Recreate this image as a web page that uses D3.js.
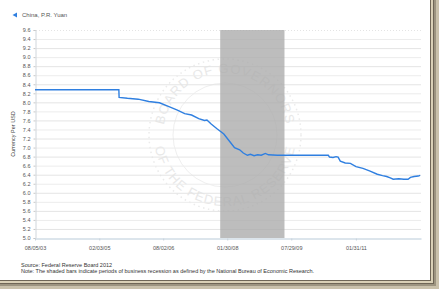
<!DOCTYPE html>
<html>
<head>
<meta charset="utf-8">
<script src="https://cdn.jsdelivr.net/npm/d3@7"></script>
<style>
  body { margin: 0; background: #fff; }
  svg { display: block; font-family: "Liberation Sans", Arial, sans-serif; }
</style>
</head>
<body>
<svg id="chart"></svg>
<script>
var seriesName = "China, P.R. Yuan";
var dates = ["2003-08-05", "2005-07-20", "2005-07-22", "2005-10-01", "2006-01-01", "2006-04-01",
  "2006-07-01", "2006-09-15", "2006-12-01", "2007-02-01", "2007-04-01", "2007-06-01",
  "2007-07-20", "2007-08-10", "2007-09-15", "2007-11-01", "2008-01-01", "2008-02-15",
  "2008-04-01", "2008-05-15", "2008-06-15", "2008-07-20", "2008-08-15", "2008-09-15",
  "2008-10-15", "2008-11-15", "2008-12-20", "2009-01-15", "2009-04-01", "2009-07-01",
  "2010-01-01", "2010-06-10", "2010-06-20", "2010-07-20", "2010-08-15", "2010-09-01",
  "2010-09-20", "2010-11-01", "2010-12-15", "2011-02-01", "2011-04-01", "2011-06-01",
  "2011-08-01", "2011-09-15", "2011-10-20", "2011-11-20", "2011-12-15", "2012-02-01",
  "2012-03-15", "2012-04-20", "2012-05-10", "2012-06-10", "2012-07-15", "2012-08-01"];
var values = [8.277, 8.277, 8.11, 8.09, 8.07, 8.02,
  7.99, 7.91, 7.83, 7.75, 7.72, 7.64,
  7.60, 7.61, 7.52, 7.42, 7.30, 7.15,
  7.00, 6.95, 6.88, 6.83, 6.85, 6.82,
  6.84, 6.83, 6.87, 6.84, 6.83, 6.83,
  6.83, 6.83, 6.79, 6.78, 6.80, 6.79,
  6.70, 6.66, 6.65, 6.58, 6.54, 6.48,
  6.41, 6.38, 6.36, 6.33, 6.30, 6.31,
  6.30, 6.30, 6.34, 6.36, 6.37, 6.385];
var recession = ["2007-12-01", "2009-06-01"];
var xTicks = ["2003-08-05", "2005-02-03", "2006-08-02", "2008-01-30", "2009-07-29", "2011-01-31"];
var yTicks = d3.range(50, 97, 2).map(function(d) { return d / 10; });

var W = 439, H = 289;
var parse = d3.timeParse("%Y-%m-%d");
var fmt = d3.timeFormat("%m/%d/%y");

var svg = d3.select("#chart").attr("width", W).attr("height", H);

var x = d3.scaleTime()
  .domain([parse("2003-08-05"), parse("2012-08-08")])
  .range([35, 421]);
var y = d3.scaleLinear().domain([5.0, 9.6]).range([238, 30]);

// faint seal watermark behind everything
var seal = svg.append("g").attr("transform", "translate(225,135)");
seal.append("circle").attr("r", 76).attr("fill", "none").attr("stroke", "#ebebeb")
  .attr("stroke-width", 1.5).attr("stroke-dasharray", "1.5,3.5");
seal.append("circle").attr("r", 52).attr("fill", "none").attr("stroke", "#efefef");
seal.append("path").attr("id", "topArc").attr("fill", "none")
  .attr("d", "M -62,0 A 62,62 0 0,1 62,0");
seal.append("path").attr("id", "botArc").attr("fill", "none")
  .attr("d", "M -71,0 A 71,71 0 0,0 71,0");
seal.append("text").attr("font-size", 13).attr("fill", "#e8e8e8").attr("text-anchor", "middle")
  .attr("letter-spacing", 1).append("textPath").attr("href", "#topArc").attr("startOffset", "50%")
  .text("BOARD OF GOVERNORS");
seal.append("text").attr("font-size", 13).attr("fill", "#e8e8e8").attr("text-anchor", "middle")
  .attr("letter-spacing", 1).append("textPath").attr("href", "#botArc").attr("startOffset", "50%")
  .text("OF THE FEDERAL RESERVE");

// gridlines
svg.append("g").selectAll("line").data(yTicks.slice(1)).enter().append("line")
  .attr("x1", 36).attr("x2", 421)
  .attr("y1", function(d) { return y(d) + 0.5; })
  .attr("y2", function(d) { return y(d) + 0.5; })
  .attr("stroke", function(d, i) { return i % 2 ? "#ececec" : "#e4e4e4"; })
  .attr("stroke-dasharray", function(d) { return d === 9.6 ? "1,2" : null; });

// recession bar
svg.append("rect")
  .attr("x", x(parse(recession[0])))
  .attr("width", x(parse(recession[1])) - x(parse(recession[0])))
  .attr("y", y(9.6)).attr("height", y(5.0) - y(9.6))
  .attr("fill", "#aaaaaa").attr("opacity", 0.78);

// y axis
var yAxis = svg.append("g").attr("transform", "translate(35.5,0)")
  .call(d3.axisLeft(y).tickValues(yTicks).tickFormat(d3.format(".1f")).tickSize(2).tickPadding(3));
yAxis.select(".domain").attr("stroke", "#d0d6dc");
yAxis.selectAll(".tick line").attr("stroke", "#c8c8c8");
yAxis.selectAll("text").attr("font-size", 5.5).attr("fill", "#555");

// x axis
var xAxis = svg.append("g").attr("transform", "translate(0,238.5)")
  .call(d3.axisBottom(x).tickValues(xTicks.map(parse)).tickFormat(fmt).tickSize(2).tickSizeOuter(0).tickPadding(6));
xAxis.select(".domain").attr("stroke", "#d0dce6").attr("stroke-width", 1.5);
xAxis.selectAll(".tick line").attr("stroke", "#c8d2dc");
xAxis.selectAll("text").attr("font-size", 5.5).attr("fill", "#555");

// series line
var pts = dates.map(function(d, i) { return [parse(d), values[i]]; });
svg.append("path").datum(pts)
  .attr("fill", "none").attr("stroke", "#2f7fe0").attr("stroke-width", 1.4)
  .attr("d", d3.line().x(function(d) { return x(d[0]); }).y(function(d) { return y(d[1]); }));

// y label
svg.append("text").attr("transform", "translate(15," + y(7.3) + ") rotate(-90)")
  .attr("text-anchor", "middle").attr("font-size", 5.5).attr("fill", "#444")
  .text("Currency Per USD");

// legend
svg.append("path").attr("d", "M12.5,15 L17,12.5 L17,17.5 Z").attr("fill", "#2f7fe0");
svg.append("text").attr("x", 22).attr("y", 17).attr("font-size", 6).attr("fill", "#555").text(seriesName);

// notes
svg.append("text").attr("x", 21).attr("y", 267).attr("font-size", 5.5).attr("fill", "#333")
  .text("Source: Federal Reserve Board 2012");
svg.append("text").attr("x", 21).attr("y", 272.5).attr("font-size", 5.5).attr("fill", "#333")
  .text("Note: The shaded bars indicate periods of business recession as defined by the National Bureau of Economic Research.");

// picture frame (right and bottom)
var frame = svg.append("g");
frame.append("rect").attr("x", 430).attr("y", 0).attr("width", 9).attr("height", 289).attr("fill", "#6e6656");
frame.append("rect").attr("x", 0).attr("y", 280).attr("width", 439).attr("height", 9).attr("fill", "#6e6656");
frame.append("rect").attr("x", 431).attr("y", 0).attr("width", 2).attr("height", 282).attr("fill", "#d9d0b6");
frame.append("rect").attr("x", 0).attr("y", 281).attr("width", 433).attr("height", 2).attr("fill", "#d9d0b6");
frame.append("rect").attr("x", 434).attr("y", 0).attr("width", 5).attr("height", 289).attr("fill", "#9c9480");
frame.append("rect").attr("x", 0).attr("y", 284).attr("width", 439).attr("height", 5).attr("fill", "#9c9480");
frame.append("rect").attr("x", 436).attr("y", 0).attr("width", 3).attr("height", 289).attr("fill", "#c9c1ab");
frame.append("rect").attr("x", 0).attr("y", 286).attr("width", 439).attr("height", 3).attr("fill", "#c9c1ab");
</script>
</body>
</html>
